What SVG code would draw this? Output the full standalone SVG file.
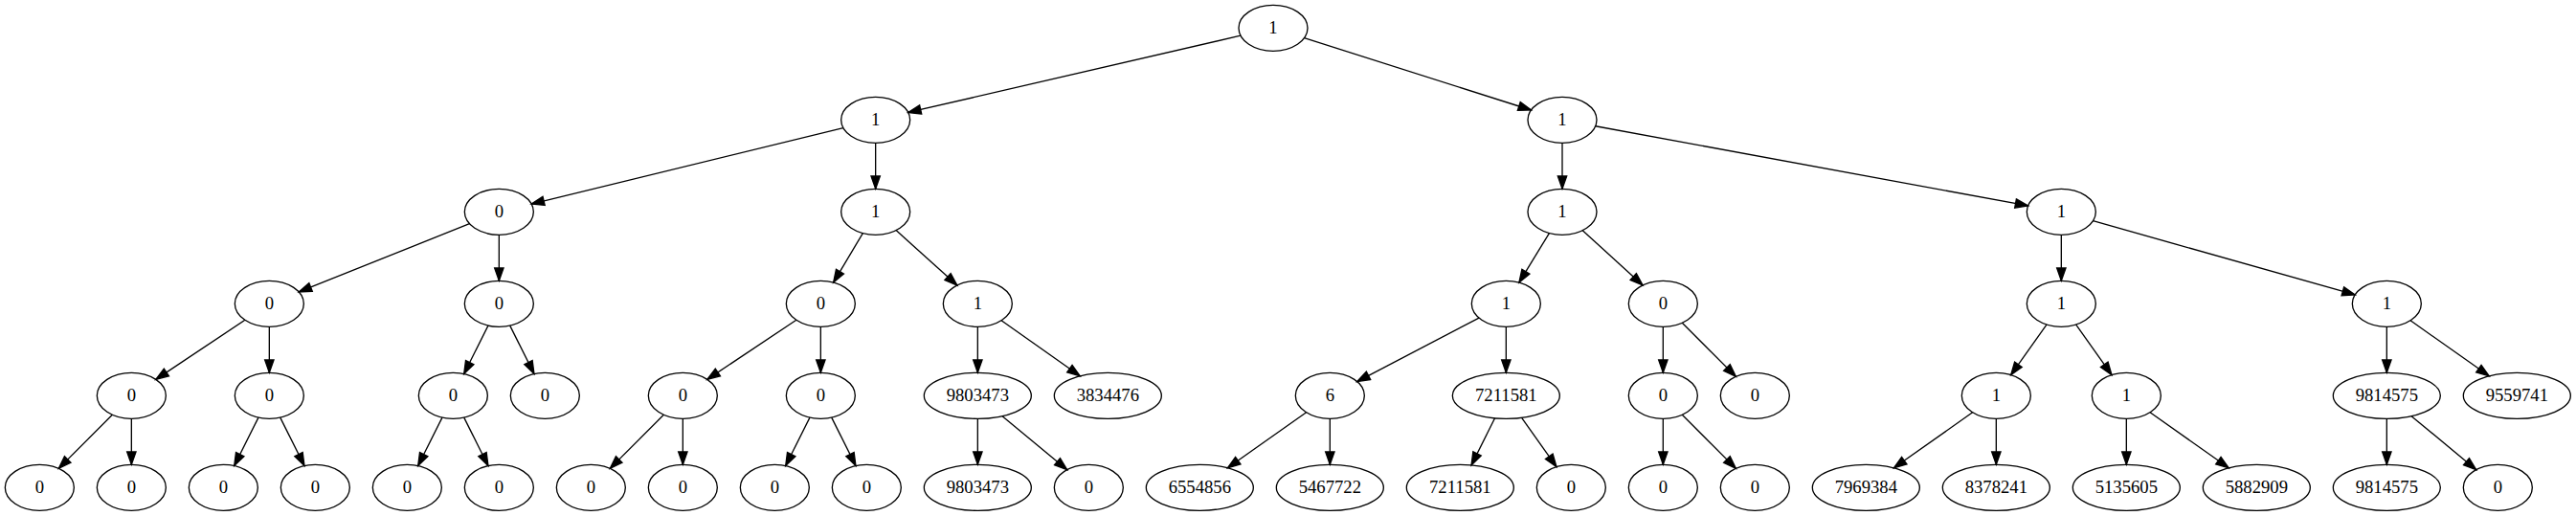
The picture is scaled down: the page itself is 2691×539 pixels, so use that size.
<svg xmlns="http://www.w3.org/2000/svg" width="2691" height="539" viewBox="0 0 2691 539">
<style>
.n ellipse{fill:none;stroke:#000;stroke-width:1}
.n text{font-family:"Liberation Serif","Times New Roman",serif;font-size:14px;text-anchor:middle;fill:#000}
#edges line{stroke:#000;stroke-width:1;fill:none;marker-end:url(#arr)}
</style>
<defs>
<marker id="arr" markerUnits="userSpaceOnUse" markerWidth="10" markerHeight="7" refX="10" refY="3.5" orient="auto" viewBox="0 0 10 7" overflow="visible"><path d="M0,0L10,3.5L0,7z" fill="#000" stroke="#000" stroke-width="1"/></marker>
</defs>
<rect width="2691" height="539" fill="#fff"/>
<g transform="scale(1.33333)">
<g id="edges">
<line x1="971.99" y1="27.90" x2="711.51" y2="88.10"/>
<line x1="1021.87" y1="29.75" x2="1199.63" y2="86.25"/>
<line x1="660.65" y1="100.19" x2="416.35" y2="159.81"/>
<line x1="686" y1="112" x2="686" y2="148"/>
<line x1="1224" y1="112" x2="1224" y2="148"/>
<line x1="1250.02" y1="98.79" x2="1588.98" y2="161.21"/>
<line x1="367.85" y1="175.26" x2="234.15" y2="228.74"/>
<line x1="391" y1="184" x2="391" y2="220"/>
<line x1="676.01" y1="182.72" x2="652.99" y2="221.28"/>
<line x1="702.07" y1="180.46" x2="749.93" y2="223.54"/>
<line x1="1213.81" y1="182.67" x2="1190.19" y2="221.33"/>
<line x1="1239.94" y1="180.53" x2="1287.06" y2="223.47"/>
<line x1="1615" y1="184" x2="1615" y2="220"/>
<line x1="1639.86" y1="173.02" x2="1845.14" y2="230.98"/>
<line x1="191.91" y1="250.73" x2="122.09" y2="297.27"/>
<line x1="211" y1="256" x2="211" y2="292"/>
<line x1="382.46" y1="255.08" x2="363.54" y2="292.92"/>
<line x1="399.54" y1="255.08" x2="418.46" y2="292.92"/>
<line x1="623.91" y1="250.73" x2="554.09" y2="297.27"/>
<line x1="643" y1="256" x2="643" y2="292"/>
<line x1="766" y1="256" x2="766" y2="292"/>
<line x1="784.54" y1="251.09" x2="846.20" y2="294.61"/>
<line x1="1158.74" y1="249.09" x2="1063.26" y2="298.91"/>
<line x1="1180" y1="256" x2="1180" y2="292"/>
<line x1="1303" y1="256" x2="1303" y2="292"/>
<line x1="1317.98" y1="252.98" x2="1360.02" y2="295.02"/>
<line x1="1603.47" y1="254.28" x2="1575.53" y2="293.72"/>
<line x1="1626.53" y1="254.28" x2="1654.47" y2="293.72"/>
<line x1="1870" y1="256" x2="1870" y2="292"/>
<line x1="1888.54" y1="251.09" x2="1950.20" y2="294.61"/>
<line x1="88.02" y1="324.98" x2="45.98" y2="367.02"/>
<line x1="103" y1="328" x2="103" y2="364"/>
<line x1="202.46" y1="327.08" x2="183.54" y2="364.92"/>
<line x1="219.54" y1="327.08" x2="238.46" y2="364.92"/>
<line x1="346.46" y1="327.08" x2="327.54" y2="364.92"/>
<line x1="363.54" y1="327.08" x2="382.46" y2="364.92"/>
<line x1="520.02" y1="324.98" x2="477.98" y2="367.02"/>
<line x1="535" y1="328" x2="535" y2="364"/>
<line x1="634.46" y1="327.08" x2="615.54" y2="364.92"/>
<line x1="651.54" y1="327.08" x2="670.46" y2="364.92"/>
<line x1="766" y1="328" x2="766" y2="364"/>
<line x1="785.31" y1="325.98" x2="836.06" y2="367.98"/>
<line x1="1023.46" y1="323.09" x2="961.80" y2="366.61"/>
<line x1="1042" y1="328" x2="1042" y2="364"/>
<line x1="1171.20" y1="327.60" x2="1152.80" y2="364.40"/>
<line x1="1192.20" y1="327.22" x2="1219.47" y2="365.72"/>
<line x1="1303" y1="328" x2="1303" y2="364"/>
<line x1="1317.98" y1="324.98" x2="1360.02" y2="367.02"/>
<line x1="1545.46" y1="323.09" x2="1483.80" y2="366.61"/>
<line x1="1564" y1="328" x2="1564" y2="364"/>
<line x1="1666" y1="328" x2="1666" y2="364"/>
<line x1="1684.54" y1="323.09" x2="1746.20" y2="366.61"/>
<line x1="1870" y1="328" x2="1870" y2="364"/>
<line x1="1889.31" y1="325.98" x2="1940.06" y2="367.98"/>
</g>
<g id="n0" class="n"><ellipse cx="997.5" cy="22" rx="27" ry="18"/><text x="997.5" y="26.2">1</text></g>
<g id="n1" class="n"><ellipse cx="686" cy="94" rx="27" ry="18"/><text x="686" y="98.2">1</text></g>
<g id="n2" class="n"><ellipse cx="1224" cy="94" rx="27" ry="18"/><text x="1224" y="98.2">1</text></g>
<g id="n3" class="n"><ellipse cx="391" cy="166" rx="27" ry="18"/><text x="391" y="170.2">0</text></g>
<g id="n4" class="n"><ellipse cx="686" cy="166" rx="27" ry="18"/><text x="686" y="170.2">1</text></g>
<g id="n5" class="n"><ellipse cx="1224" cy="166" rx="27" ry="18"/><text x="1224" y="170.2">1</text></g>
<g id="n6" class="n"><ellipse cx="1615" cy="166" rx="27" ry="18"/><text x="1615" y="170.2">1</text></g>
<g id="n7" class="n"><ellipse cx="211" cy="238" rx="27" ry="18"/><text x="211" y="242.2">0</text></g>
<g id="n8" class="n"><ellipse cx="391" cy="238" rx="27" ry="18"/><text x="391" y="242.2">0</text></g>
<g id="n9" class="n"><ellipse cx="643" cy="238" rx="27" ry="18"/><text x="643" y="242.2">0</text></g>
<g id="n10" class="n"><ellipse cx="766" cy="238" rx="27" ry="18"/><text x="766" y="242.2">1</text></g>
<g id="n11" class="n"><ellipse cx="1180" cy="238" rx="27" ry="18"/><text x="1180" y="242.2">1</text></g>
<g id="n12" class="n"><ellipse cx="1303" cy="238" rx="27" ry="18"/><text x="1303" y="242.2">0</text></g>
<g id="n13" class="n"><ellipse cx="1615" cy="238" rx="27" ry="18"/><text x="1615" y="242.2">1</text></g>
<g id="n14" class="n"><ellipse cx="1870" cy="238" rx="27" ry="18"/><text x="1870" y="242.2">1</text></g>
<g id="n15" class="n"><ellipse cx="103" cy="310" rx="27" ry="18"/><text x="103" y="314.2">0</text></g>
<g id="n16" class="n"><ellipse cx="211" cy="310" rx="27" ry="18"/><text x="211" y="314.2">0</text></g>
<g id="n17" class="n"><ellipse cx="355" cy="310" rx="27" ry="18"/><text x="355" y="314.2">0</text></g>
<g id="n18" class="n"><ellipse cx="427" cy="310" rx="27" ry="18"/><text x="427" y="314.2">0</text></g>
<g id="n19" class="n"><ellipse cx="535" cy="310" rx="27" ry="18"/><text x="535" y="314.2">0</text></g>
<g id="n20" class="n"><ellipse cx="643" cy="310" rx="27" ry="18"/><text x="643" y="314.2">0</text></g>
<g id="n21" class="n"><ellipse cx="766" cy="310" rx="42" ry="18"/><text x="766" y="314.2">9803473</text></g>
<g id="n22" class="n"><ellipse cx="868" cy="310" rx="42" ry="18"/><text x="868" y="314.2">3834476</text></g>
<g id="n23" class="n"><ellipse cx="1042" cy="310" rx="27" ry="18"/><text x="1042" y="314.2">6</text></g>
<g id="n24" class="n"><ellipse cx="1180" cy="310" rx="42" ry="18"/><text x="1180" y="314.2">7211581</text></g>
<g id="n25" class="n"><ellipse cx="1303" cy="310" rx="27" ry="18"/><text x="1303" y="314.2">0</text></g>
<g id="n26" class="n"><ellipse cx="1375" cy="310" rx="27" ry="18"/><text x="1375" y="314.2">0</text></g>
<g id="n27" class="n"><ellipse cx="1564" cy="310" rx="27" ry="18"/><text x="1564" y="314.2">1</text></g>
<g id="n28" class="n"><ellipse cx="1666" cy="310" rx="27" ry="18"/><text x="1666" y="314.2">1</text></g>
<g id="n29" class="n"><ellipse cx="1870" cy="310" rx="42" ry="18"/><text x="1870" y="314.2">9814575</text></g>
<g id="n30" class="n"><ellipse cx="1972" cy="310" rx="42" ry="18"/><text x="1972" y="314.2">9559741</text></g>
<g id="n31" class="n"><ellipse cx="31" cy="382" rx="27" ry="18"/><text x="31" y="386.2">0</text></g>
<g id="n32" class="n"><ellipse cx="103" cy="382" rx="27" ry="18"/><text x="103" y="386.2">0</text></g>
<g id="n33" class="n"><ellipse cx="175" cy="382" rx="27" ry="18"/><text x="175" y="386.2">0</text></g>
<g id="n34" class="n"><ellipse cx="247" cy="382" rx="27" ry="18"/><text x="247" y="386.2">0</text></g>
<g id="n35" class="n"><ellipse cx="319" cy="382" rx="27" ry="18"/><text x="319" y="386.2">0</text></g>
<g id="n36" class="n"><ellipse cx="391" cy="382" rx="27" ry="18"/><text x="391" y="386.2">0</text></g>
<g id="n37" class="n"><ellipse cx="463" cy="382" rx="27" ry="18"/><text x="463" y="386.2">0</text></g>
<g id="n38" class="n"><ellipse cx="535" cy="382" rx="27" ry="18"/><text x="535" y="386.2">0</text></g>
<g id="n39" class="n"><ellipse cx="607" cy="382" rx="27" ry="18"/><text x="607" y="386.2">0</text></g>
<g id="n40" class="n"><ellipse cx="679" cy="382" rx="27" ry="18"/><text x="679" y="386.2">0</text></g>
<g id="n41" class="n"><ellipse cx="766" cy="382" rx="42" ry="18"/><text x="766" y="386.2">9803473</text></g>
<g id="n42" class="n"><ellipse cx="853" cy="382" rx="27" ry="18"/><text x="853" y="386.2">0</text></g>
<g id="n43" class="n"><ellipse cx="940" cy="382" rx="42" ry="18"/><text x="940" y="386.2">6554856</text></g>
<g id="n44" class="n"><ellipse cx="1042" cy="382" rx="42" ry="18"/><text x="1042" y="386.2">5467722</text></g>
<g id="n45" class="n"><ellipse cx="1144" cy="382" rx="42" ry="18"/><text x="1144" y="386.2">7211581</text></g>
<g id="n46" class="n"><ellipse cx="1231" cy="382" rx="27" ry="18"/><text x="1231" y="386.2">0</text></g>
<g id="n47" class="n"><ellipse cx="1303" cy="382" rx="27" ry="18"/><text x="1303" y="386.2">0</text></g>
<g id="n48" class="n"><ellipse cx="1375" cy="382" rx="27" ry="18"/><text x="1375" y="386.2">0</text></g>
<g id="n49" class="n"><ellipse cx="1462" cy="382" rx="42" ry="18"/><text x="1462" y="386.2">7969384</text></g>
<g id="n50" class="n"><ellipse cx="1564" cy="382" rx="42" ry="18"/><text x="1564" y="386.2">8378241</text></g>
<g id="n51" class="n"><ellipse cx="1666" cy="382" rx="42" ry="18"/><text x="1666" y="386.2">5135605</text></g>
<g id="n52" class="n"><ellipse cx="1768" cy="382" rx="42" ry="18"/><text x="1768" y="386.2">5882909</text></g>
<g id="n53" class="n"><ellipse cx="1870" cy="382" rx="42" ry="18"/><text x="1870" y="386.2">9814575</text></g>
<g id="n54" class="n"><ellipse cx="1957" cy="382" rx="27" ry="18"/><text x="1957" y="386.2">0</text></g>
</g>
</svg>
